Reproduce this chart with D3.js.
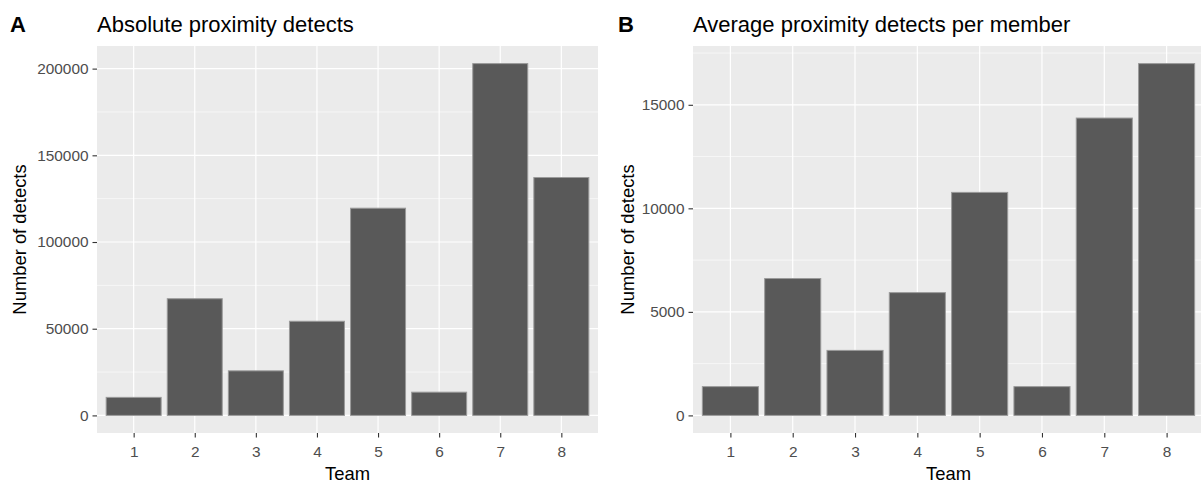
<!DOCTYPE html>
<html>
<head>
<meta charset="utf-8">
<script src="https://cdn.jsdelivr.net/npm/d3@7"></script>
<style>
    body { margin: 0; background: #fff; }
    svg text { font-family: "Liberation Sans", Arial, sans-serif; }
    .tick-label { fill: #4d4d4d; font-size: 15.4px; }
    .axis-title { fill: #000; font-size: 18.4px; }
    .plot-title { fill: #000; font-size: 22px; }
    .tag { fill: #000; font-size: 22px; font-weight: bold; }
</style>
</head>
<body>
<svg id="chart" width="1201" height="483"></svg>
<script>
var teams = ['1', '2', '3', '4', '5', '6', '7', '8'];
var absoluteDetects = [10400, 67300, 25700, 54300, 119500, 13400, 202900, 137200];
var averageDetects = [1390, 6610, 3140, 5930, 10770, 1390, 14360, 16990];
var absoluteTicks = [0, 50000, 100000, 150000, 200000];
var averageTicks = [0, 5000, 10000, 15000];

var svg = d3.select('#chart');

var barPanel = function(_config){
    var config = {
        left: 0,
        panelLeft: 0,
        panelRight: 0,
        panelTop: 46,
        panelBottom: 433,
        tag: '',
        title: '',
        values: null,
        ticks: null,
        step: 0
    };
    Object.assign(config, _config);

    var g = svg.append('g');
    var maxV = d3.max(config.values);

    // ggplot style 5% expansion on the continuous axis
    var scaleY = d3.scaleLinear()
        .domain([-0.05 * maxV, 1.05 * maxV])
        .range([config.panelBottom, config.panelTop]);

    // discrete axis expands 0.6 units each side
    var n = config.values.length;
    var unit = (config.panelRight - config.panelLeft) / (n - 1 + 1.2);
    var scaleX = d3.scalePoint()
        .domain(teams)
        .range([config.panelLeft + 0.6 * unit, config.panelRight - 0.6 * unit]);
    var barW = 0.9 * unit;

    g.append('rect')
        .attr('x', config.panelLeft)
        .attr('y', config.panelTop)
        .attr('width', config.panelRight - config.panelLeft)
        .attr('height', config.panelBottom - config.panelTop)
        .attr('fill', '#ebebeb');

    var minor = [];
    for(var i = 0; i < config.ticks.length; i++){
        minor.push(config.ticks[i] + config.step / 2);
    }
    minor = minor.filter(function(v){ return scaleY(v) > config.panelTop; });

    g.selectAll('line.minor')
        .data(minor)
        .enter().append('line')
        .attr('class', 'minor')
        .attr('x1', config.panelLeft)
        .attr('x2', config.panelRight)
        .attr('y1', function(d){ return scaleY(d); })
        .attr('y2', function(d){ return scaleY(d); })
        .attr('stroke', '#fff')
        .attr('stroke-width', 0.6);

    g.selectAll('line.major-y')
        .data(config.ticks)
        .enter().append('line')
        .attr('class', 'major-y')
        .attr('x1', config.panelLeft)
        .attr('x2', config.panelRight)
        .attr('y1', function(d){ return scaleY(d); })
        .attr('y2', function(d){ return scaleY(d); })
        .attr('stroke', '#fff')
        .attr('stroke-width', 1.2);

    g.selectAll('line.major-x')
        .data(teams)
        .enter().append('line')
        .attr('class', 'major-x')
        .attr('x1', function(d){ return scaleX(d); })
        .attr('x2', function(d){ return scaleX(d); })
        .attr('y1', config.panelTop)
        .attr('y2', config.panelBottom)
        .attr('stroke', '#fff')
        .attr('stroke-width', 1.2);

    g.selectAll('rect.bar')
        .data(config.values)
        .enter().append('rect')
        .attr('class', 'bar')
        .attr('x', function(d, i){ return scaleX(teams[i]) - barW / 2; })
        .attr('y', function(d){ return scaleY(d); })
        .attr('width', barW)
        .attr('height', function(d){ return scaleY(0) - scaleY(d); })
        .attr('fill', '#595959')
        .attr('stroke', '#9a9a9a')
        .attr('stroke-width', 1);

    // axes
    var axisY = g.append('g')
        .attr('transform', 'translate(' + config.panelLeft + ',0)')
        .call(d3.axisLeft(scaleY).tickValues(config.ticks).tickSize(4.5).tickPadding(4).tickFormat(d3.format('d')));
    var axisX = g.append('g')
        .attr('transform', 'translate(0,' + config.panelBottom + ')')
        .call(d3.axisBottom(scaleX).tickSize(4.5).tickPadding(5));
    [axisY, axisX].forEach(function(ax){
        ax.select('.domain').remove();
        ax.selectAll('.tick line').attr('stroke', '#333').attr('stroke-width', 1.1);
        ax.selectAll('.tick text')
            .attr('class', 'tick-label')
            .attr('font-family', null)
            .attr('font-size', null)
            .attr('fill', null);
    });
    axisX.selectAll('.tick text').attr('dy', null).attr('y', 24);

    g.append('text')
        .attr('class', 'axis-title')
        .attr('x', (config.panelLeft + config.panelRight) / 2)
        .attr('y', 480)
        .attr('text-anchor', 'middle')
        .text('Team');

    g.append('text')
        .attr('class', 'axis-title')
        .attr('transform', 'translate(' + (config.left + 26) + ',' + ((config.panelTop + config.panelBottom) / 2) + ') rotate(-90)')
        .attr('text-anchor', 'middle')
        .text('Number of detects');

    g.append('text')
        .attr('class', 'plot-title')
        .attr('x', config.panelLeft)
        .attr('y', 32)
        .text(config.title);

    g.append('text')
        .attr('class', 'tag')
        .attr('x', config.left + 10)
        .attr('y', 32)
        .text(config.tag);
};

barPanel({
    left: 0,
    panelLeft: 97,
    panelRight: 598,
    tag: 'A',
    title: 'Absolute proximity detects',
    values: absoluteDetects,
    ticks: absoluteTicks,
    step: 50000
});

barPanel({
    left: 608,
    panelLeft: 693,
    panelRight: 1204,
    tag: 'B',
    title: 'Average proximity detects per member',
    values: averageDetects,
    ticks: averageTicks,
    step: 5000
});
</script>
</body>
</html>
